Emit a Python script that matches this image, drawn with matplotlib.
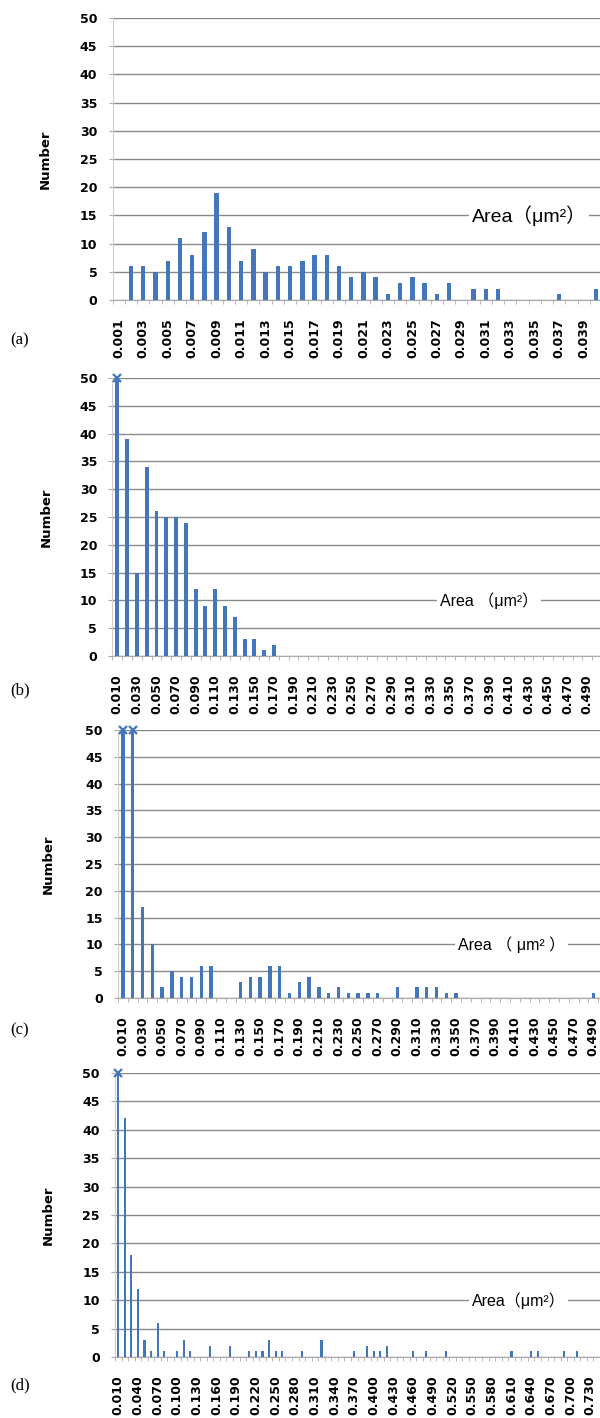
import numpy as np
import matplotlib
matplotlib.use('Agg')
import matplotlib.pyplot as plt

# Histogram counts (values > 50 are off scale,
# their real height is unknown, they are drawn clipped with a cross)

# (a) bins 0.001 .. 0.040 um^2
a_bins = ['%.3f' % (k / 1000) for k in range(1, 41)]
a_counts = [0, 6, 6, 5, 7, 11, 8, 12, 19, 13,
            7, 9, 5, 6, 6, 7, 8, 8, 6, 4,
            5, 4, 1, 3, 4, 3, 1, 3, 0, 2,
            2, 2, 0, 0, 0, 0, 1, 0, 0, 2]

# (b) bins 0.010 .. 0.500 um^2
b_bins = ['%.3f' % (k / 100) for k in range(1, 51)]
b_counts = [60, 39, 15, 34, 26, 25, 25, 24, 12, 9,
            12, 9, 7, 3, 3, 1, 2, 0, 0, 0] + [0] * 30

# (c) bins 0.010 .. 0.500 um^2
c_bins = ['%.3f' % (k / 100) for k in range(1, 51)]
c_counts = [60, 60, 17, 10, 2, 5, 4, 4, 6, 6,
            0, 0, 3, 4, 4, 6, 6, 1, 3, 4,
            2, 1, 2, 1, 1, 1, 1, 0, 2, 0,
            2, 2, 2, 1, 1, 0, 0, 0, 0, 0,
            0, 0, 0, 0, 0, 0, 0, 0, 1, 0]

# (d) bins 0.010 .. 0.740 um^2
d_bins = ['%.3f' % (k / 100) for k in range(1, 75)]
d_counts = [60, 42, 18, 12, 3, 1, 6, 1, 0, 1,
            3, 1, 0, 0, 2, 0, 0, 2, 0, 0,
            1, 1, 1, 3, 1, 1, 0, 0, 1, 0,
            0, 3, 0, 0, 0, 0, 1, 0, 2, 1,
            1, 2, 0, 0, 0, 1, 0, 1, 0, 0,
            1, 0, 0, 0, 0, 0, 0, 0, 0, 0,
            1, 0, 0, 1, 1, 0, 0, 0, 1, 0,
            1, 0, 0, 0]

BLUE = '#4476bc'
GRID = '#8a8a8a'
W, H = 600, 1418

fig = plt.figure(figsize=(6, 14.18), dpi=100)


def panel(box, bins, counts, step, width, area_txt, area_x, area_y, area_size, tag, tag_y, ylab_x):
    left, top, right, bottom = box
    ax = fig.add_axes([left / W, 1 - bottom / H, (right - left) / W, (bottom - top) / H])
    n = len(bins)
    x = np.arange(n)
    ax.bar(x, counts, width=width, color=BLUE, zorder=3)
    over = [i for i in x if counts[i] > 50]
    ax.plot(over, [50] * len(over), 'x', color=BLUE, ms=6, mew=1.6, clip_on=False, zorder=4)

    ax.set_xlim(-0.5, n - 0.5)
    ax.set_ylim(0, 50)
    ax.set_yticks(np.arange(0, 51, 5))
    ax.yaxis.grid(True, color=GRID, lw=1)
    ax.set_axisbelow(True)

    ax.set_xticks(x[::step])
    ax.set_xticklabels(bins[::step], rotation=90, fontsize=9, fontweight='bold')
    ax.set_xticks(np.arange(n + 1) - 0.5, minor=True)
    ax.tick_params(axis='x', which='major', length=0, pad=13)
    ax.tick_params(axis='x', which='minor', length=3, color='#aaaaaa', direction='out')
    ax.tick_params(axis='y', length=3, color='#aaaaaa', pad=8, labelsize=9)
    for t in ax.get_yticklabels():
        t.set_fontweight('bold')

    for s in ['top', 'right']:
        ax.spines[s].set_visible(False)
    ax.spines['left'].set_color('#d0d0d0')
    ax.spines['bottom'].set_color('#aaaaaa')

    ax.set_ylabel('Number', fontsize=9.5, fontweight='bold')
    ax.yaxis.set_label_coords((ylab_x - left) / (right - left), 0.5)

    ax.text(area_x, area_y, area_txt, transform=ax.get_yaxis_transform(),
            ha='left', va='center', fontsize=area_size,
            family=['Liberation Sans', 'Noto Sans CJK JP'],
            bbox=dict(facecolor='white', edgecolor='none', pad=2), zorder=5)

    fig.text(10 / W, 1 - tag_y / H, tag, fontsize=12, family='Liberation Serif',
             ha='left', va='center')
    return ax


panel((112.7, 18, 602, 300), a_bins, a_counts, 2, 0.36,
      'Area（μm²）', 0.734, 15, 14, '(a)', 340, 52)
panel((112.4, 378, 602, 656), b_bins, b_counts, 2, 0.4,
      'Area （μm²）', 0.669, 10, 11.5, '(b)', 690, 53)
panel((118, 730, 608, 998), c_bins, c_counts, 2, 0.36,
      'Area （ μm² ）', 0.694, 10, 11.5, '(c)', 1030, 55)
panel((115, 1073, 600, 1357), d_bins, d_counts, 3, 0.32,
      'Area（μm²）', 0.736, 10, 11.5, '(d)', 1385, 55)

fig.savefig('out.png', dpi=100)
